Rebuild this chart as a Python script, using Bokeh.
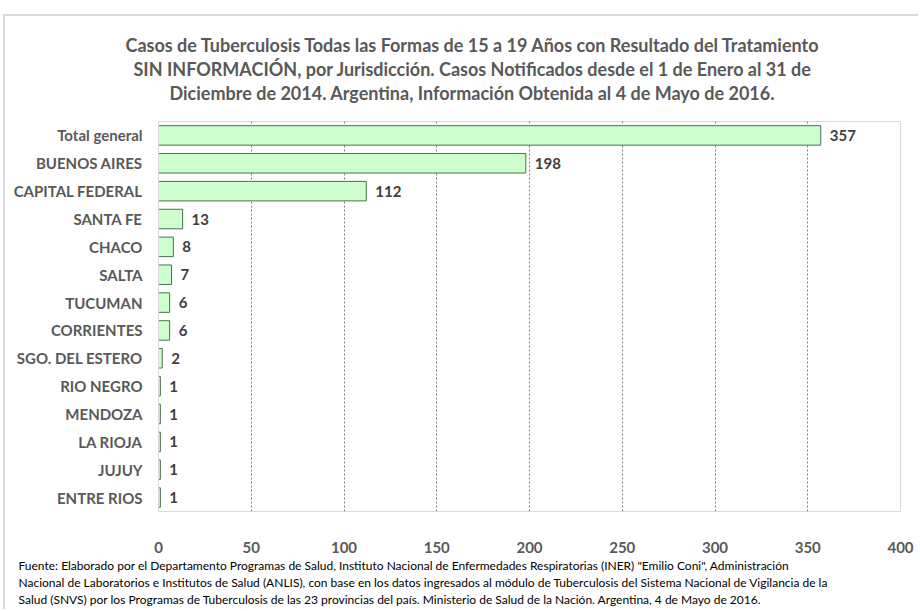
from bokeh.plotting import figure
from bokeh.models import ColumnDataSource, FactorRange, Range1d, Title
from bokeh.core.properties import value
from bokeh.embed import file_html
from bokeh.resources import INLINE

jurisdicciones = ["Total general", "BUENOS AIRES", "CAPITAL FEDERAL", "SANTA FE", "CHACO",
                  "SALTA", "TUCUMAN", "CORRIENTES", "SGO. DEL ESTERO", "RIO NEGRO",
                  "MENDOZA", "LA RIOJA", "JUJUY", "ENTRE RIOS"]
casos = [357, 198, 112, 13, 8, 7, 6, 6, 2, 1, 1, 1, 1, 1]
x_ticks = [0, 50, 100, 150, 200, 250, 300, 350, 400]

title_lines = [
    "Casos de Tuberculosis Todas las Formas de 15 a 19 Años con Resultado del Tratamiento",
    "SIN INFORMACIÓN, por Jurisdicción. Casos Notificados desde el 1 de Enero al 31 de",
    "Diciembre de 2014. Argentina, Información Obtenida al 4 de Mayo de 2016.",
]
footnote_lines = [
    "Fuente: Elaborado por el Departamento Programas de Salud, Instituto Nacional de Enfermedades Respiratorias (INER) \"Emilio Coni\", Administración",
    "Nacional de Laboratorios e Institutos de Salud (ANLIS), con base en los datos ingresados al módulo de Tuberculosis del Sistema Nacional de Vigilancia de la",
    "Salud (SNVS) por los Programas de Tuberculosis de las 23 provincias del país. Ministerio de Salud de la Nación. Argentina,  4 de Mayo de 2016.",
]

FONT = "Lato"
GREY = "#595959"

src = ColumnDataSource(dict(cat=jurisdicciones, val=casos, lbl=[str(v) for v in casos]))

p = figure(width=915, height=595, output_backend="svg", toolbar_location=None,
           y_range=FactorRange(factors=list(reversed(jurisdicciones))),
           x_range=Range1d(0, 400),
           min_border_left=153, min_border_right=20, min_border_top=105, min_border_bottom=100)
p.styles = {"margin-left": "3px", "margin-top": "14px",
            "border-left": "2px solid #d9d9d9", "border-top": "2px solid #d9d9d9"}

p.hbar(y="cat", right="val", left=0, height=0.7, source=src,
       fill_color="#ccffcc", line_color="#4e704e", line_width=1)
p.text(x="val", y="cat", text="lbl", source=src, x_offset=9,
       text_baseline="middle", text_align="left", text_font=value(FONT),
       text_font_style="bold", text_font_size="15px", text_color="#404040")

p.xaxis.ticker = x_ticks
p.xaxis.axis_line_color = None
p.xaxis.major_tick_line_color = None
p.xaxis.minor_tick_line_color = None
p.xaxis.major_label_standoff = 24
p.xaxis.major_label_text_font = FONT
p.xaxis.major_label_text_font_size = "15px"
p.xaxis.major_label_text_font_style = "bold"
p.xaxis.major_label_text_color = GREY

p.yaxis.axis_line_color = "#d9d9d9"
p.yaxis.major_tick_line_color = None
p.yaxis.minor_tick_line_color = None
p.yaxis.major_label_standoff = 10
p.yaxis.major_label_text_font = FONT
p.yaxis.major_label_text_font_size = "15px"
p.yaxis.major_label_text_font_style = "bold"
p.yaxis.major_label_text_color = GREY

p.xgrid.ticker = x_ticks
p.xgrid.grid_line_color = "#808080"
p.xgrid.grid_line_dash = "2 2"
p.ygrid.grid_line_color = None
p.outline_line_color = "#d9d9d9"

# spacer between the title block and the plot frame
p.add_layout(Title(text=" ", text_font=FONT, text_font_size="8px", standoff=6), "above")

# title: closest-to-frame line is added first
title_offsets = [-33, -25, 11]
for i in reversed(range(len(title_lines))):
    p.add_layout(Title(text=title_lines[i], align="left", offset=title_offsets[i],
                       text_font=FONT, text_font_size="18px", text_font_style="bold",
                       text_color=GREY, standoff=0), "above")

for line in footnote_lines:
    p.add_layout(Title(text=line, align="left", offset=-140, text_font=FONT,
                       text_font_size="12px", text_font_style="normal",
                       text_color="#000000", standoff=0), "below")

open("out.html", "w").write(file_html(p, INLINE))
